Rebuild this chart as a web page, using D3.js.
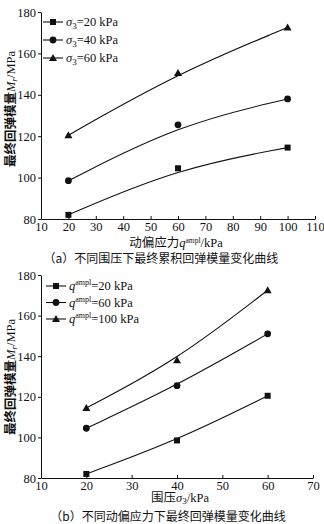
<!DOCTYPE html>
<html><head><meta charset="utf-8">
<script src="https://cdn.jsdelivr.net/npm/d3@7"></script>
<style>
body{margin:0;background:#fff;}
text{fill:#111;}
</style></head>
<body>
<svg id="c" width="324" height="524"></svg>
<script>
// Chart (a): modulus vs deviator stress amplitude, per confining pressure
const aX = [20, 60, 100];
const aSeries = ["20", "40", "60"];
const aValues = [
  [82, 104.5, 114.5],
  [98.5, 125.5, 138],
  [120.5, 150.5, 172.5]
];
const aXTicks = [10,20,30,40,50,60,70,80,90,100,110];
// Chart (b): modulus vs confining pressure, per deviator stress amplitude
const bX = [20, 40, 60];
const bSeries = ["20", "60", "100"];
const bValues = [
  [82, 98.5, 120.5],
  [104.5, 125.5, 151],
  [114.5, 138, 172.5]
];
const bXTicks = [10,20,30,40,50,60,70];
const yTicks = [80,100,120,140,160,180];
const markers = ["square","circle","triangle"];

const svg = d3.select("#c");
const serif = '"Liberation Serif","DejaVu Serif",serif';
const cjk = '"Noto Sans CJK SC",sans-serif';

function marker(g, type, x, y){
  if(type==="square") g.append("rect").attr("x",x-3).attr("y",y-3).attr("width",6).attr("height",6).attr("fill","#111");
  else if(type==="circle") g.append("circle").attr("cx",x).attr("cy",y).attr("r",3.4).attr("fill","#111");
  else g.append("path").attr("d",`M${x},${y-4}L${x+4},${y+3}L${x-4},${y+3}Z`).attr("fill","#111");
}

function styleAxis(s){
  s.select(".domain").attr("stroke","#111");
  s.selectAll(".tick line").attr("stroke","#111");
  s.selectAll(".tick text").attr("font-family",serif).attr("font-size",12.5).attr("fill","#111");
}

function chart(cfg){
  const x = d3.scaleLinear().domain(cfg.xd).range(cfg.xr);
  const y = d3.scaleLinear().domain([80,180]).range(cfg.yr);
  const g = svg.append("g");
  g.append("g").attr("transform",`translate(0,${cfg.yr[0]})`)
    .call(d3.axisBottom(x).tickValues(cfg.xticks).tickSizeInner(-3).tickSizeOuter(0).tickPadding(3))
    .call(styleAxis);
  g.append("g").attr("transform",`translate(${cfg.xr[0]},0)`)
    .call(d3.axisLeft(y).tickValues(yTicks).tickSizeInner(3).tickSizeOuter(0).tickPadding(2))
    .call(styleAxis);
  const line = d3.line().x((d,i)=>x(cfg.xs[i])).y(d=>y(d)).curve(d3.curveBasis);
  cfg.values.forEach((vals,k)=>{
    g.append("path").attr("d",line(vals)).attr("fill","none").attr("stroke","#111").attr("stroke-width",1.1);
    vals.forEach((v,i)=>marker(g, markers[k], x(cfg.xs[i]), y(v)));
  });
  // legend
  cfg.series.forEach((s,k)=>{
    const ly = cfg.legY + k*cfg.legStep;
    g.append("line").attr("x1",cfg.legX).attr("x2",cfg.legX+20).attr("y1",ly).attr("y2",ly).attr("stroke","#111").attr("stroke-width",1.1);
    marker(g, markers[k], cfg.legX+10, ly);
    const t = g.append("text").attr("x",cfg.legX+23).attr("y",ly+4).attr("font-family",serif).attr("font-size",12.5);
    cfg.legendText(t, s);
  });
  // y label
  const yl = g.append("text").attr("transform",`translate(${cfg.ylx},${cfg.yly}) rotate(-90)`).attr("text-anchor","middle").attr("font-size",12.5);
  yl.append("tspan").attr("font-family",cjk).attr("font-weight","bold").text("最终回弹模量");
  yl.append("tspan").attr("font-family",serif).attr("font-style","italic").text("M");
  yl.append("tspan").attr("font-family",serif).attr("font-style","italic").attr("font-size",9).attr("dy",2).text("r");
  yl.append("tspan").attr("font-family",serif).attr("dy",-2).text("/MPa");
  // x label
  const xl = g.append("text").attr("x",cfg.xlx).attr("y",cfg.xly).attr("text-anchor","middle").attr("font-size",12.5);
  cfg.xlabel(xl);
  g.append("text").attr("x",cfg.capx).attr("y",cfg.capy).attr("text-anchor","middle").attr("font-family",cjk).attr("font-size",12).text(cfg.caption);
}

chart({
  xd:[10,110], xr:[41,315], yr:[219,12], xs:aX, values:aValues, xticks:aXTicks, series:aSeries,
  legX:43, legY:22, legStep:18,
  legendText:(t,s)=>{
    t.append("tspan").attr("font-style","italic").text("σ");
    t.append("tspan").attr("font-size",9).attr("dy",3).text("3");
    t.append("tspan").attr("dy",-3).text("="+s+" kPa");
  },
  ylx:15, yly:109,
  xlx:176, xly:247,
  xlabel:(t)=>{
    t.append("tspan").attr("font-family",cjk).text("动偏应力");
    t.append("tspan").attr("font-family",serif).attr("font-style","italic").text("q");
    t.append("tspan").attr("font-family",serif).attr("font-size",7.5).attr("dy",-4).text("ampl");
    t.append("tspan").attr("font-family",serif).attr("dy",4).text("/kPa");
  },
  capx:161, capy:263, caption:"（a）不同围压下最终累积回弹模量变化曲线"
});

chart({
  xd:[10,70], xr:[41,313], yr:[478,275], xs:bX, values:bValues, xticks:bXTicks, series:bSeries,
  legX:46, legY:286, legStep:16.5,
  legendText:(t,s)=>{
    t.append("tspan").attr("font-style","italic").text("q");
    t.append("tspan").attr("font-size",8).attr("dy",-5).text("ampl");
    t.append("tspan").attr("dy",5).text("="+s+" kPa");
  },
  ylx:15, yly:377,
  xlx:180, xly:502,
  xlabel:(t)=>{
    t.append("tspan").attr("font-family",cjk).text("围压");
    t.append("tspan").attr("font-family",serif).attr("font-style","italic").text("σ");
    t.append("tspan").attr("font-family",serif).attr("font-size",9).attr("dy",2).text("3");
    t.append("tspan").attr("font-family",serif).attr("dy",-2).text("/kPa");
  },
  capx:168, capy:521, caption:"（b）不同动偏应力下最终回弹模量变化曲线"
});
</script>
</body></html>
